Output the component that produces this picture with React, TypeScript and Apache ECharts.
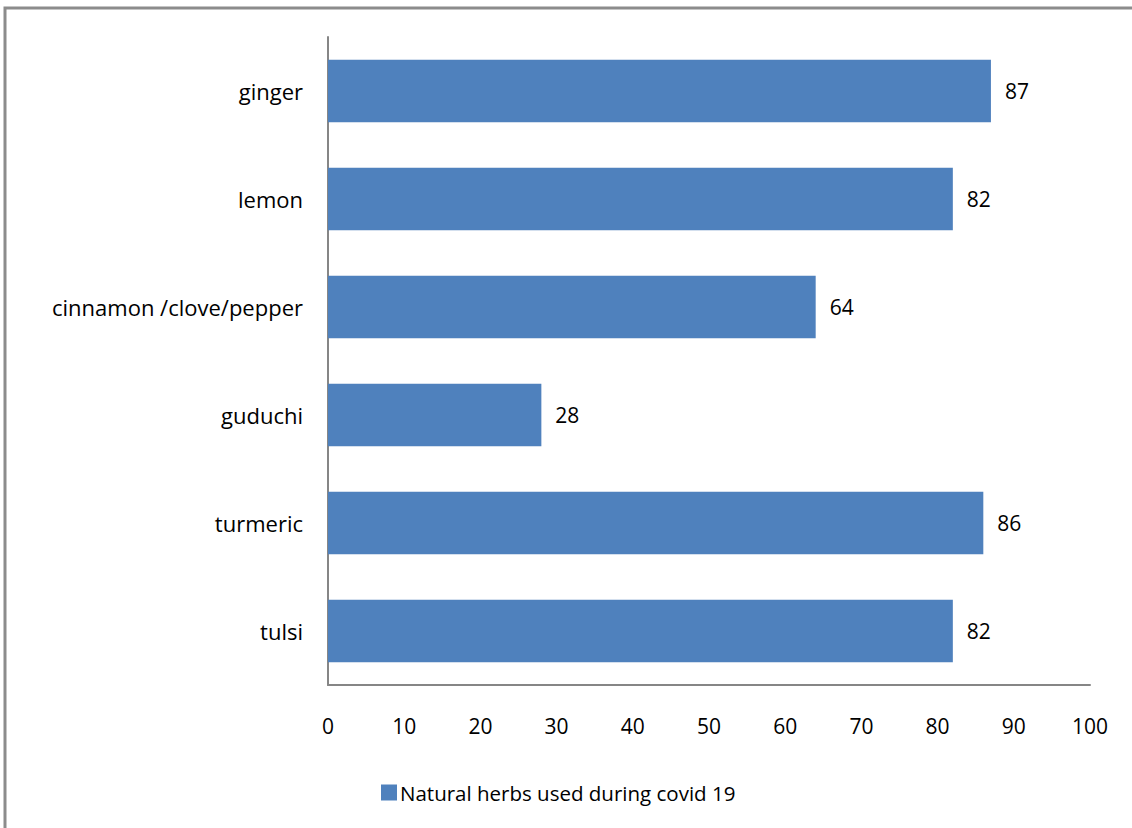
import React, { useEffect, useRef } from "react";
import * as echarts from "echarts";

const categories = ["tulsi", "turmeric", "guduchi", "cinnamon /clove/pepper", "lemon", "ginger"];
const values = [82, 86, 28, 64, 82, 87];
const seriesName = "Natural herbs used during covid 19";
const xTicks = [0, 10, 20, 30, 40, 50, 60, 70, 80, 90, 100];

const FONT = "Open Sans";
const TEXT = "#000000";
const BAR = "#4f81bd";
const AXIS = "#868686";

export default function App() {
  const ref = useRef<HTMLDivElement>(null);

  useEffect(() => {
    if (!ref.current) return;
    const chart = echarts.init(ref.current, null, { renderer: "svg" });
    chart.setOption({
      animation: false,
      backgroundColor: "#ffffff",
      textStyle: { fontFamily: FONT },
      grid: { left: 328, top: 37, right: 42, bottom: 143, containLabel: false },
      legend: {
        data: [seriesName],
        bottom: 20,
        left: 376,
        itemWidth: 16,
        itemHeight: 16,
        itemGap: 6,
        icon: "rect",
        textStyle: { fontFamily: FONT, fontSize: 20.5, color: TEXT, padding: [0, 0, 0, -2] },
      },
      xAxis: {
        type: "value",
        min: xTicks[0],
        max: xTicks[xTicks.length - 1],
        interval: 10,
        axisLine: { show: true, lineStyle: { color: AXIS, width: 2 } },
        axisTick: { show: false },
        splitLine: { show: false },
        axisLabel: { color: TEXT, fontSize: 21, fontFamily: FONT, margin: 30 },
      },
      yAxis: {
        type: "category",
        data: categories,
        axisLine: { show: true, onZero: false, lineStyle: { color: AXIS, width: 2 } },
        axisTick: { show: false },
        axisLabel: { color: TEXT, fontSize: 22, fontFamily: FONT, margin: 25 },
      },
      series: [
        {
          name: seriesName,
          type: "bar",
          data: values,
          barCategoryGap: "42%",
          itemStyle: { color: BAR },
          label: {
            show: true,
            position: "right",
            distance: 14,
            color: TEXT,
            fontSize: 21,
            fontFamily: FONT,
          },
        },
      ],
      graphic: [
        {
          type: "polyline",
          shape: { points: [[5, 840], [5, 8], [1140, 8]] },
          style: { stroke: "#8c8c8c", lineWidth: 3, fill: "none" },
          silent: true,
        },
      ],
    });
    return () => chart.dispose();
  }, []);

  return (
    <div
      ref={ref}
      style={{ position: "fixed", left: 0, top: 0, width: 1132, height: 828 }}
    />
  );
}
